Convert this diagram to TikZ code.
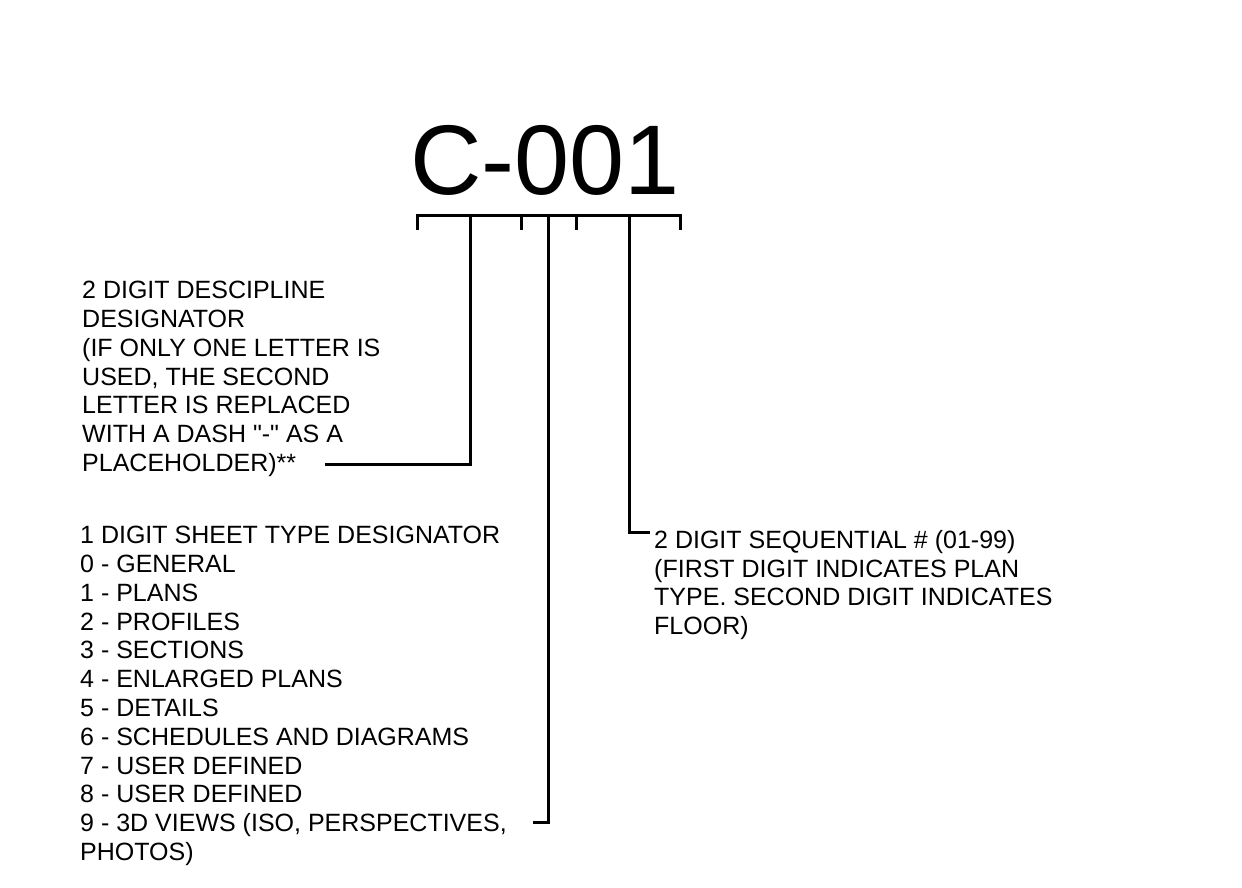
\documentclass[tikz,border=0pt]{standalone}
\usepackage{fontspec}
\setmainfont{Liberation Sans}
\begin{document}
\begin{tikzpicture}[x=1pt,y=-1pt,
  lbl/.style={inner sep=0pt, anchor=north west, align=left, font=\fontsize{25}{28.8}\selectfont},
  ttl/.style={inner sep=0pt, anchor=base west, font=\fontsize{99}{105}\selectfont},
  brk/.style={line width=3pt},
  lead/.style={line width=3pt}]
\useasboundingbox (0,0) rectangle (1242,888);
% title
\node[ttl] (title) at (410,194) {C-001};
% bracket points
\coordinate (bl) at (417,215);
\coordinate (br) at (680,215);
\coordinate (t1) at (521,215);
\coordinate (t2) at (576,215);
\draw[brk] ([yshift=-15pt]bl) -- (bl) -- (br) -- ([yshift=-15pt]br);
\draw[brk] (t1) -- ([yshift=-15pt]t1);
\draw[brk] (t2) -- ([yshift=-15pt]t2);
% bracket drop points
\coordinate (d1) at (470,215);
\coordinate (d2) at (548,215);
\coordinate (d3) at (629,215);
% labels
\node[lbl] (disc) at (82,281) {2 DIGIT DESCIPLINE\\DESIGNATOR\\(IF ONLY ONE LETTER IS\\USED, THE SECOND\\LETTER IS REPLACED\\WITH A DASH \textquotedbl-\textquotedbl{} AS A\\PLACEHOLDER)**};
\node[lbl] (sheet) at (80,526) {1 DIGIT SHEET TYPE DESIGNATOR\\0 - GENERAL\\1 - PLANS\\2 - PROFILES\\3 - SECTIONS\\4 - ENLARGED PLANS\\5 - DETAILS\\6 - SCHEDULES AND DIAGRAMS\\7 - USER DEFINED\\8 - USER DEFINED\\9 - 3D VIEWS (ISO, PERSPECTIVES,\\PHOTOS)};
\node[lbl] (seq) at (654,530) {2 DIGIT SEQUENTIAL \# (01-99)\\(FIRST DIGIT INDICATES PLAN\\TYPE. SECOND DIGIT INDICATES\\FLOOR)};
% leader ends
\coordinate (e1) at (325,464);
\coordinate (e2) at (533,822);
\coordinate (e3) at (650,532);
\draw[lead] (d1) |- (e1);
\draw[lead] (d2) |- (e2);
\draw[lead] (d3) |- (e3);
\end{tikzpicture}
\end{document}
